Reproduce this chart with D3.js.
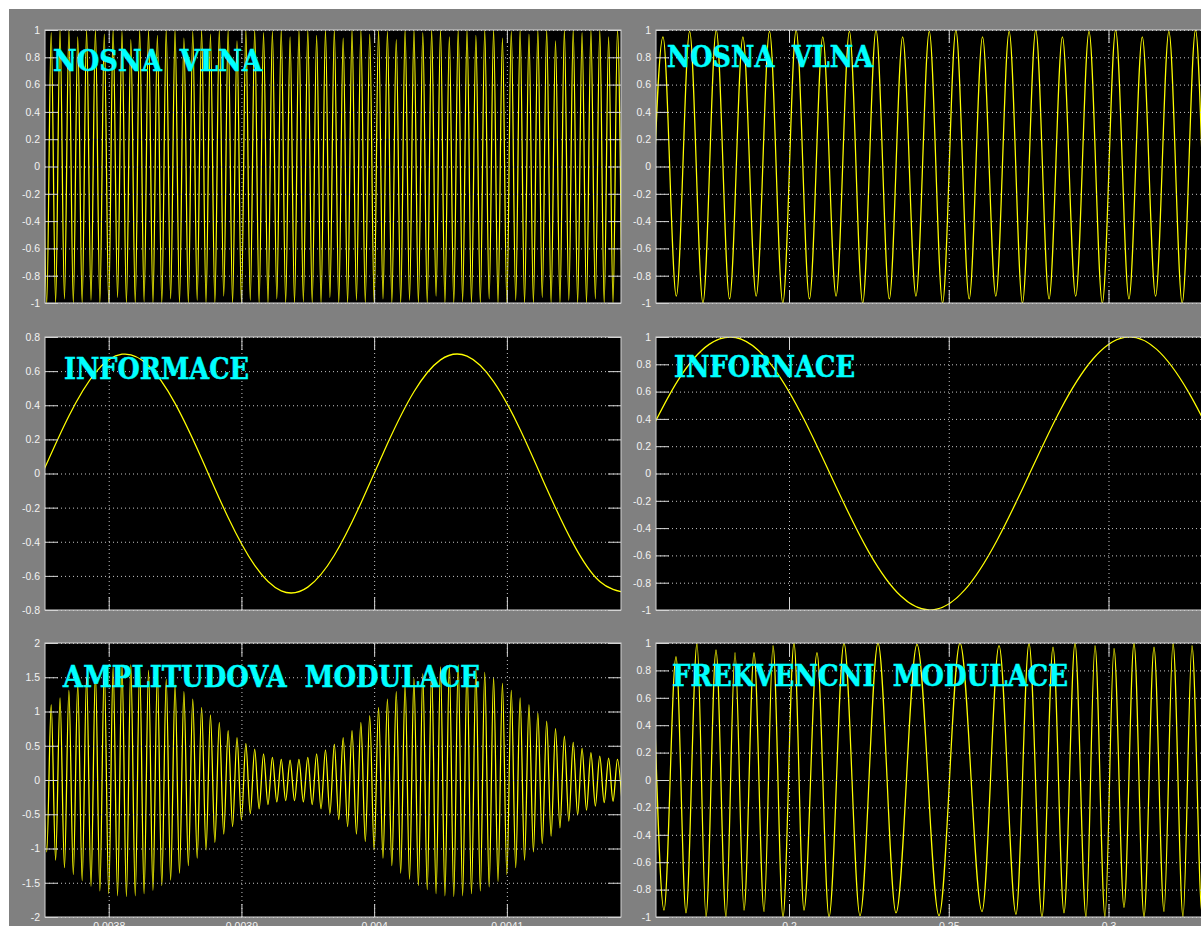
<!DOCTYPE html>
<html>
<head>
<meta charset="utf-8">
<script src="https://cdn.jsdelivr.net/npm/d3@7"></script>
<style>
  body { margin: 0; background: #fff; }
  svg { display: block; }
  .title { font-family: "DejaVu Serif", serif; font-weight: bold; fill: #00ffff; stroke: #00ffff; stroke-width: 0.5; white-space: pre; }
</style>
</head>
<body>
<div id="chart"></div>
<script>
// ---- data ----

// left column: time axis in seconds
const leftXLimits = [0.003752, 0.004186];
const leftXTicks = [0.0038, 0.0039, 0.004, 0.0041];
const leftXTickLabels = ["0.0038", "0.0039", "0.004", "0.0041"];

// right column
const rightXLimits = [0.15837, 0.33865];
const rightXTicks = [0.2, 0.25, 0.3];
const rightXTickLabels = ["0.2", "0.25", "0.3"];

const panelTitles = ["NOSNA  VLNA", "NOSNA  VLNA", "INFORMACE", "INFORNACE", "AMPLITUDOVA  MODULACE", "FREKVENCNI  MODULACE"];

// carrier (left), successive peaks/troughs, one every half period
const nosnaLeftStart = 0.00375;
const nosnaLeftStep = 1 / 300000;
const nosnaLeft = [
  1, -1, 0.98, -1, 1, -0.97, 1, -1, 0.95, -1, 1, -0.98,
  1, -1, 0.97, -1, 1, -0.96, 0.99, -1, 0.93, -1, 1, -0.99,
  1, -1, 0.96, -1, 1, -0.97, 1, -1, 0.94, -1, 0.99, -0.98,
  1, -1, 0.97, -1, 1, -0.95, 1, -1, 0.92, -1, 1, -0.98,
  1, -1, 0.98, -1, 0.99, -0.97, 1, -1, 0.95, -1, 1, -0.99,
  1, -1, 0.96, -1, 1, -0.96, 1, -1, 0.94, -1, 1, -0.98,
  1, -1, 0.97, -1, 1, -0.97, 0.99, -1, 0.93, -1, 1, -0.98,
  1, -1, 0.98, -1, 1, -0.95, 1, -1, 0.95, -1, 1, -0.99,
  1, -1, 0.96, -1, 1, -0.97, 1, -1, 0.94, -1, 0.99, -0.98,
  1, -1, 0.97, -1, 1, -0.96, 1, -1, 0.92, -1, 1, -0.98,
  1, -1, 0.98, -1, 1, -0.97, 1, -1, 0.95, -1, 1, -0.99
];

// information signal (left)
const informaceLeftStart = 0.00375;
const informaceLeftStep = 0.00002;
const informaceLeft = [
  0, 0.337, 0.591, 0.699, 0.633, 0.411, 0.088, -0.258, -0.539, -0.688, -0.666, -0.479,
  -0.174, 0.174, 0.479, 0.666, 0.688, 0.539, 0.258, -0.088, -0.411, -0.633, -0.699
];

// amplitude modulation, same instants as the carrier extremes
const amLeft = [
  0.99, -1.05, 1.10, -1.17, 1.20, -1.28, 1.31, -1.38, 1.40, -1.47, 1.50, -1.55,
  1.56, -1.62, 1.62, -1.66, 1.65, -1.69, 1.68, -1.70, 1.68, -1.69, 1.64, -1.66,
  1.60, -1.61, 1.55, -1.54, 1.47, -1.46, 1.39, -1.36, 1.29, -1.25, 1.18, -1.14,
  1.06, -1.02, 0.95, -0.91, 0.84, -0.79, 0.72, -0.68, 0.62, -0.58, 0.53, -0.49,
  0.45, -0.42, 0.38, -0.36, 0.33, -0.32, 0.30, -0.30, 0.29, -0.30, 0.30, -0.32,
  0.33, -0.36, 0.38, -0.42, 0.44, -0.49, 0.52, -0.58, 0.62, -0.68, 0.72, -0.79,
  0.84, -0.90, 0.94, -1.02, 1.06, -1.14, 1.18, -1.25, 1.29, -1.36, 1.39, -1.45,
  1.48, -1.54, 1.55, -1.60, 1.61, -1.66, 1.65, -1.69, 1.68, -1.70, 1.68, -1.69,
  1.66, -1.66, 1.62, -1.62, 1.57, -1.56, 1.50, -1.48, 1.41, -1.38, 1.31, -1.28,
  1.20, -1.17, 1.10, -1.05, 0.98, -0.93, 0.86, -0.82, 0.75, -0.70, 0.64, -0.60,
  0.55, -0.51, 0.46, -0.44, 0.40, -0.38, 0.35, -0.33, 0.32, -0.31, 0.30, -0.30
];

// carrier (right), extremes every half period
const nosnaRightStart = 0.1564;
const nosnaRightStep = 1 / 240;
const nosnaRight = [
  -0.97, 0.95, -0.95, 0.99, -1, 1, -0.97, 0.95, -0.95, 0.99, -1, 1,
  -0.97, 0.95, -0.95, 0.99, -1, 1, -0.97, 0.95, -0.95, 0.99, -1, 1,
  -0.97, 0.95, -0.95, 0.99, -1, 1, -0.97, 0.95, -0.95, 0.99, -1, 1,
  -0.97, 0.95, -0.95, 0.99, -1, 1, -0.97, 0.95, -0.95
];

// information signal (right)
const informaceRightStart = 0.155;
const informaceRightStep = 0.01;
const informaceRight = [
  0.233, 0.673, 0.946, 0.985, 0.780, 0.383, -0.110, -0.576, -0.898, -0.999,
  -0.853, -0.494, -0.016, 0.469, 0.835, 0.997, 0.911, 0.598, 0.142, -0.354
];

// frequency modulation: instants of the peaks/troughs and their values
const fmRightTimes = [
  0.15743, 0.16088, 0.16463, 0.16776, 0.17121, 0.17402, 0.17715, 0.18028, 0.1831, 0.18592,
  0.18905, 0.19218, 0.19499, 0.19812, 0.20156, 0.20469, 0.20876, 0.21252, 0.21721, 0.22222,
  0.22786, 0.23349, 0.24006, 0.24695, 0.25352, 0.26041, 0.26573, 0.27105, 0.27512, 0.27919,
  0.28263, 0.28607, 0.28951, 0.29296, 0.29577, 0.2989, 0.30172, 0.30485, 0.30798, 0.31111,
  0.31424, 0.31737, 0.32019, 0.32332, 0.32613, 0.32926, 0.33239, 0.33521, 0.33834, 0.34147
];
const fmRight = [
  0.88, -0.95, 0.9, -0.97, 1, -1, 0.95, -1, 0.93, -0.95,
  0.93, -0.96, 0.98, -1, 1, -0.95, 0.93, -1, 1, -0.99,
  1, -0.97, 0.99, -0.99, 1, -0.96, 0.98, -0.98, 1, -1,
  0.97, -0.97, 1, -1, 0.98, -1, 0.96, -0.93, 1, -1,
  0.97, -0.96, 1, -1, 0.98, -0.97, 1, -1, 0.96, -0.98
];

// ---- build series ----
function evenSeries(start, step, values) {
  return values.map((v, i) => [start + i * step, v]);
}

const panels = [
  { left: 45, top: 30, bottom: 303, xLim: leftXLimits, xTicks: leftXTicks, yLim: [-1, 1],
    points: evenSeries(nosnaLeftStart, nosnaLeftStep, nosnaLeft), curve: d3.curveMonotoneX,
    title: panelTitles[0], tx: 8, ty: 41, tw: 209 },
  { left: 656, top: 30, bottom: 303, xLim: rightXLimits, xTicks: rightXTicks, yLim: [-1, 1],
    points: evenSeries(nosnaRightStart, nosnaRightStep, nosnaRight), curve: d3.curveMonotoneX,
    title: panelTitles[1], tx: 11, ty: 37, tw: 206 },
  { left: 45, top: 337, bottom: 610, xLim: leftXLimits, xTicks: leftXTicks, yLim: [-0.8, 0.8],
    points: evenSeries(informaceLeftStart, informaceLeftStep, informaceLeft), curve: d3.curveNatural,
    title: panelTitles[2], tx: 19, ty: 42, tw: 185 },
  { left: 656, top: 337, bottom: 610, xLim: rightXLimits, xTicks: rightXTicks, yLim: [-1, 1],
    points: evenSeries(informaceRightStart, informaceRightStep, informaceRight), curve: d3.curveNatural,
    title: panelTitles[3], tx: 18, ty: 40, tw: 181 },
  { left: 45, top: 643, bottom: 917, xLim: leftXLimits, xTicks: leftXTicks, xLabels: leftXTickLabels, yLim: [-2, 2],
    points: evenSeries(nosnaLeftStart, nosnaLeftStep, amLeft), curve: d3.curveMonotoneX,
    title: panelTitles[4], tx: 18, ty: 44, tw: 417 },
  { left: 656, top: 643, bottom: 917, xLim: rightXLimits, xTicks: rightXTicks, xLabels: rightXTickLabels, yLim: [-1, 1],
    points: fmRightTimes.map((t, i) => [t, fmRight[i]]), curve: d3.curveMonotoneX,
    title: panelTitles[5], tx: 16, ty: 43, tw: 396 }
];

const W = 1201, H = 926, PW = 576, TICK = 13;
const axisColor = "#d4d4d4";
const fmt = d => String(+d.toFixed(4));

const svg = d3.select("#chart").append("svg").attr("width", W).attr("height", H);
svg.append("rect").attr("width", W).attr("height", H).attr("fill", "#fff");
svg.append("rect").attr("x", 9).attr("y", 9).attr("width", W - 9).attr("height", H - 9).attr("fill", "#808080");

function styleAxis(sel) {
  sel.select(".domain").remove();
  sel.selectAll(".tick line").attr("stroke", axisColor);
  sel.selectAll(".tick text").attr("fill", "#f2f2f2")
    .style("font-family", "'Liberation Sans', Arial, sans-serif").style("font-size", "10.5px");
}

function styleGrid(sel) {
  sel.select(".domain").remove();
  sel.selectAll(".tick line").attr("stroke", "#c4c4c4").attr("stroke-dasharray", "1,3");
}

function drawPanel(p, idx) {
  const h = p.bottom - p.top;
  const x = d3.scaleLinear().domain(p.xLim).range([p.left, p.left + PW]);
  const y = d3.scaleLinear().domain(p.yLim).range([p.bottom, p.top]);
  const g = svg.append("g");

  g.append("rect").attr("x", p.left).attr("y", p.top).attr("width", PW).attr("height", h).attr("fill", "#000");

  g.append("clipPath").attr("id", "clip" + idx).append("rect")
    .attr("x", p.left).attr("y", p.top).attr("width", PW).attr("height", h);

  const line = d3.line().x(d => x(d[0])).y(d => y(d[1])).curve(p.curve);
  g.append("path").datum(p.points)
    .attr("clip-path", `url(#clip${idx})`)
    .attr("d", line)
    .attr("fill", "none")
    .attr("stroke", "#ffff00")
    .attr("stroke-width", 1.25);

  // dotted grid
  g.append("g").attr("transform", `translate(${p.left},0)`)
    .call(d3.axisLeft(y).ticks(10).tickSize(-PW).tickFormat(""))
    .call(styleGrid);
  g.append("g").attr("transform", `translate(0,${p.bottom})`)
    .call(d3.axisBottom(x).tickValues(p.xTicks).tickSize(-h).tickFormat(""))
    .call(styleGrid);

  // box
  g.append("rect").attr("x", p.left).attr("y", p.top).attr("width", PW).attr("height", h)
    .attr("fill", "none").attr("stroke", axisColor).attr("stroke-width", 1);

  // ticks on all four sides, pointing inward
  g.append("g").attr("transform", `translate(${p.left},0)`)
    .call(d3.axisLeft(y).ticks(10).tickSize(-TICK).tickPadding(5).tickFormat(fmt))
    .call(styleAxis);
  g.append("g").attr("transform", `translate(${p.left + PW},0)`)
    .call(d3.axisRight(y).ticks(10).tickSize(-TICK).tickFormat(""))
    .call(styleAxis);
  g.append("g").attr("transform", `translate(0,${p.top})`)
    .call(d3.axisTop(x).tickValues(p.xTicks).tickSize(-TICK).tickFormat(""))
    .call(styleAxis);
  g.append("g").attr("transform", `translate(0,${p.bottom})`)
    .call(d3.axisBottom(x).tickValues(p.xTicks).tickSize(-TICK).tickPadding(6)
      .tickFormat((d, i) => p.xLabels ? p.xLabels[i] : ""))
    .call(styleAxis);

  g.append("text")
    .attr("class", "title")
    .attr("x", p.left + p.tx)
    .attr("y", p.top + p.ty)
    .attr("font-size", 29)
    .attr("textLength", p.tw)
    .attr("lengthAdjust", "spacingAndGlyphs")
    .text(p.title);
}

panels.forEach(drawPanel);
</script>
</body>
</html>
